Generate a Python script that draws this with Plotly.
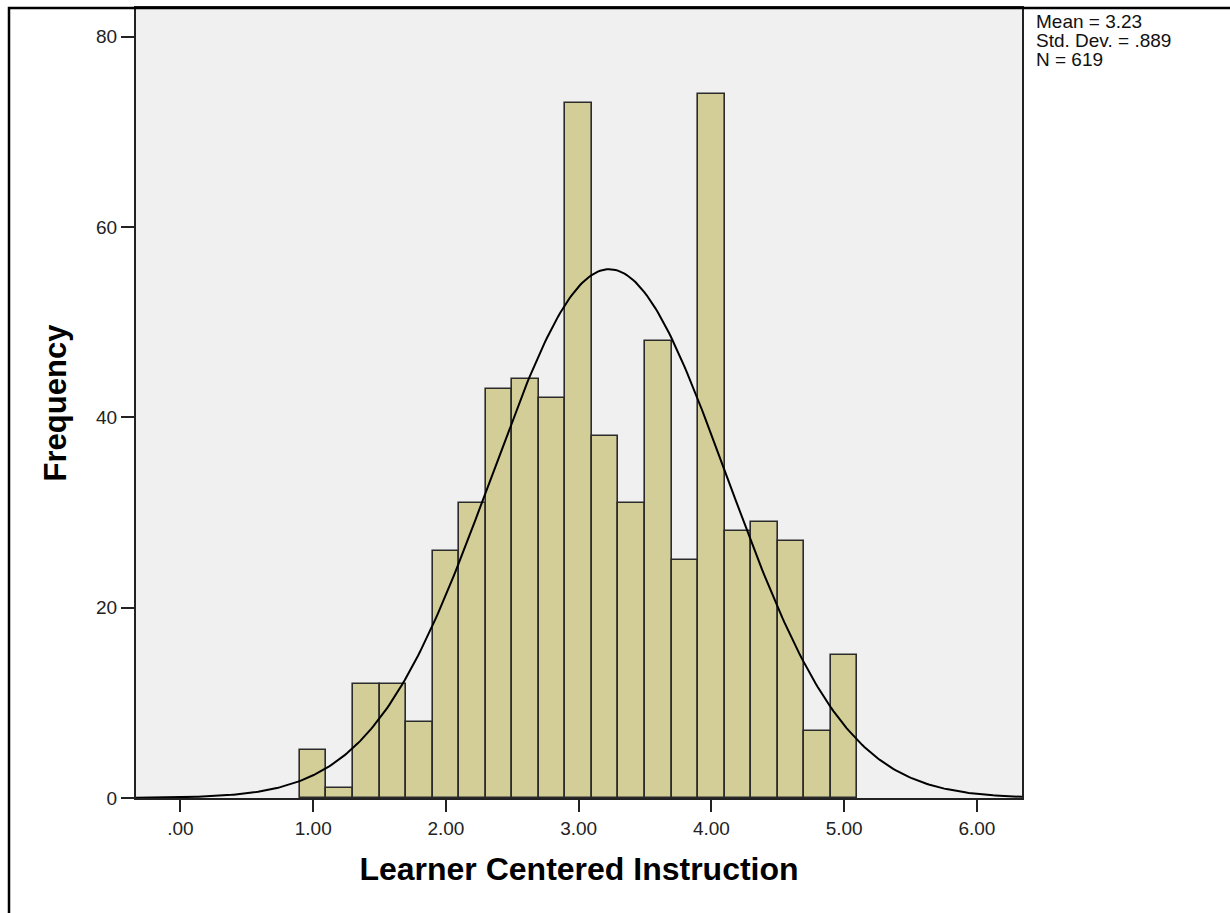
import numpy as np
import plotly.graph_objects as go

# Histogram of Learner Centered Instruction scores (bins of width 0.2)
bin_centers = [1.0, 1.2, 1.4, 1.6, 1.8, 2.0, 2.2, 2.4, 2.6, 2.8, 3.0,
               3.2, 3.4, 3.6, 3.8, 4.0, 4.2, 4.4, 4.6, 4.8, 5.0]
frequencies = [5, 1, 12, 12, 8, 26, 31, 43, 44, 42, 73,
               38, 31, 48, 25, 74, 28, 29, 27, 7, 15]
bin_width = 0.2

# Summary statistics shown beside the chart
mean_value = 3.23
std_dev = 0.889
n_cases = 619

x_tick_vals = [0, 1, 2, 3, 4, 5, 6]
x_tick_text = [".00", "1.00", "2.00", "3.00", "4.00", "5.00", "6.00"]
y_tick_vals = [0, 20, 40, 60, 80]

x_range = [-0.335, 6.34]
y_range = [0, 83.0]

# Normal curve scaled to the histogram counts
curve_x = np.linspace(x_range[0], x_range[1], 400)
curve_y = (n_cases * bin_width / (std_dev * np.sqrt(2 * np.pi))
           * np.exp(-0.5 * ((curve_x - mean_value) / std_dev) ** 2))

FONT = "Liberation Sans, Arial, sans-serif"

fig = go.Figure()
fig.add_trace(go.Bar(
    x=bin_centers, y=frequencies, width=bin_width,
    marker=dict(color="#D3CE98", line=dict(color="#2b2b2b", width=1.6)),
    hoverinfo="x+y",
))
fig.add_trace(go.Scatter(
    x=curve_x, y=curve_y, mode="lines",
    line=dict(color="#000000", width=2), hoverinfo="skip",
))

L, R, T, B = 136, 208, 6, 115
W, H = 1230, 913
pw, ph = W - L - R, H - T - B

def px_x(p):
    return (p - L) / pw

def px_y(p):
    return (H - B - p) / ph

# Statistics block, one annotation per line for tight spacing
stat_lines = [
    f"Mean = {mean_value:.2f}",
    f"Std. Dev. = {str(round(std_dev, 3)).lstrip('0')}",
    f"N = {n_cases}",
]
stat_annotations = [
    dict(xref="paper", yref="paper", x=px_x(1034), y=px_y(20 + 19 * i),
         xanchor="left", yanchor="middle", align="left", showarrow=False,
         text=line, font=dict(size=19, color="#111111", family=FONT))
    for i, line in enumerate(stat_lines)
]

fig.update_layout(
    width=W, height=H,
    margin=dict(l=L, r=R, t=T, b=B, pad=0),
    paper_bgcolor="white", plot_bgcolor="#F0F0F0",
    showlegend=False, bargap=0,
    font=dict(family=FONT, color="#000000"),
    xaxis=dict(
        range=x_range, tickvals=x_tick_vals, ticktext=x_tick_text,
        ticks="outside", ticklen=12, tickwidth=2, tickcolor="#222222",
        tickfont=dict(size=19, color="#222222"),
        showgrid=False, zeroline=False,
        showline=True, linecolor="#222222", linewidth=2, mirror=True,
        title=dict(text="<b>Learner Centered Instruction</b>",
                   font=dict(size=32, color="#000000"), standoff=20),
    ),
    yaxis=dict(
        range=y_range, tickvals=y_tick_vals,
        ticks="outside", ticklen=13, tickwidth=2, tickcolor="#222222",
        tickfont=dict(size=19, color="#222222"),
        showgrid=False, zeroline=False,
        showline=True, linecolor="#222222", linewidth=2, mirror=True,
        title=dict(text="<b>Frequency</b>",
                   font=dict(size=31, color="#000000"), standoff=20),
    ),
    annotations=stat_annotations,
    shapes=[dict(
        type="rect", xref="paper", yref="paper",
        x0=px_x(9), x1=px_x(1245), y0=px_y(930), y1=px_y(6),
        line=dict(color="#000000", width=2.5), fillcolor="rgba(0,0,0,0)",
        layer="above",
    )],
)

fig.write_html("out.html")
